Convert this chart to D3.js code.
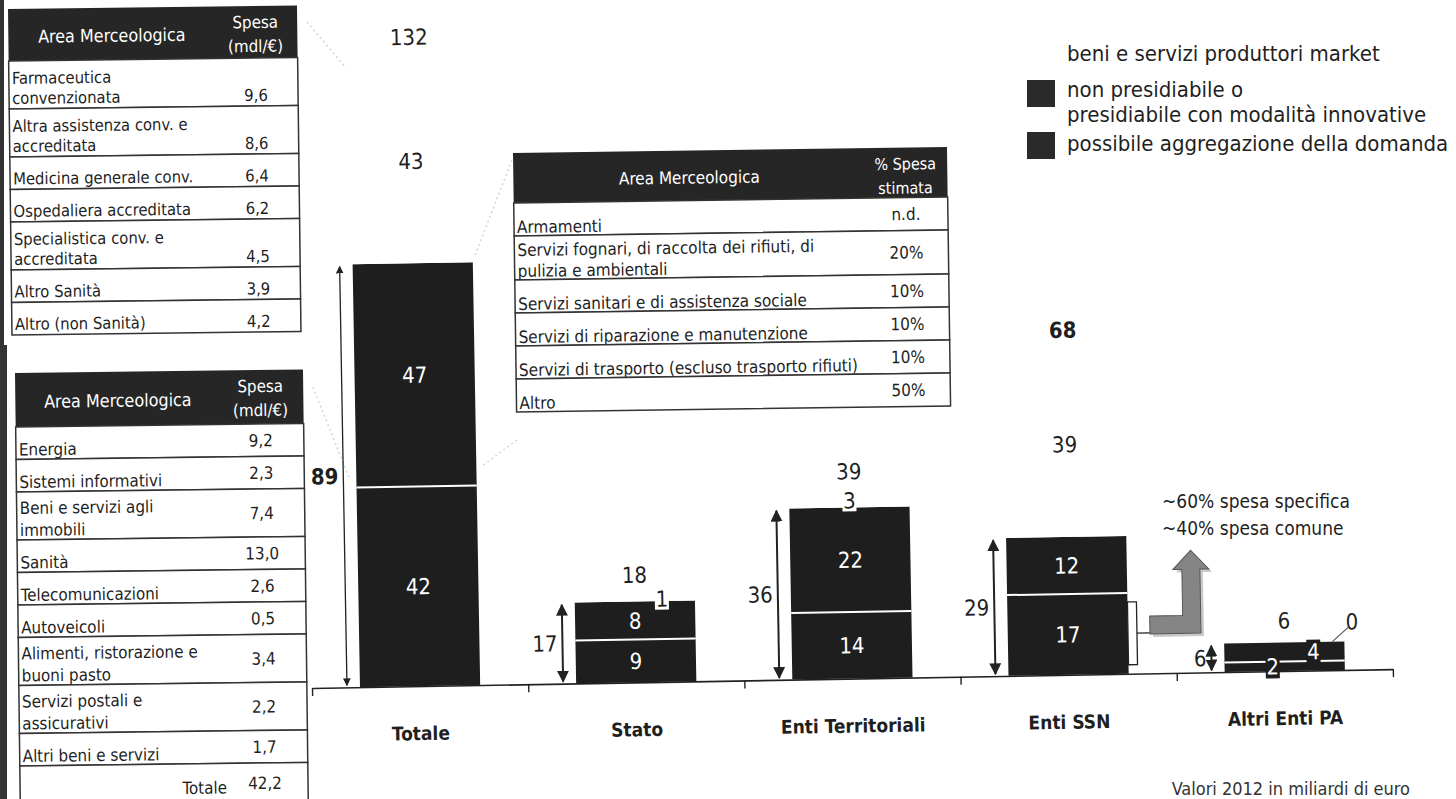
<!DOCTYPE html>
<html>
<head>
<meta charset="utf-8">
<script src="https://cdn.jsdelivr.net/npm/d3@7"></script>
<style>
  body { margin: 0; background: #fff; }
  svg { display: block; font-family: "DejaVu Sans Condensed", "DejaVu Sans", sans-serif; font-stretch: condensed; }
</style>
</head>
<body>
<svg id="chart" width="1456" height="799"></svg>
<script>
// ---- data ----
const categories = ["Totale", "Stato", "Enti Territoriali", "Enti SSN", "Altri Enti PA"];
const aggregazione = [42, 9, 14, 17, 2];      // possibile aggregazione della domanda
const nonPresidiabile = [47, 8, 22, 12, 4];   // non presidiabile o presidiabile con modalità innovative
const produttoriMarket = [43, 1, 3, 39, 0];   // beni e servizi produttori market
const presidiabili = [89, 17, 36, 29, 6];
const totali = [132, 18, 39, 68, 6];

const legendLabels = ["beni e servizi produttori market",
  "non presidiabile o\npresidiabile con modalità innovative",
  "possibile aggregazione della domanda"];
const ssnNote = ["~60% spesa specifica", "~40% spesa comune"];

const sanitaAree = ["Farmaceutica\nconvenzionata", "Altra assistenza conv. e\naccreditata", "Medicina generale conv.",
  "Ospedaliera accreditata", "Specialistica conv. e\naccreditata", "Altro Sanità", "Altro (non Sanità)"];
const sanitaSpesa = [9.6, 8.6, 6.4, 6.2, 4.5, 3.9, 4.2];

const beniAree = ["Energia", "Sistemi informativi", "Beni e servizi agli\nimmobili", "Sanità", "Telecomunicazioni",
  "Autoveicoli", "Alimenti, ristorazione e\nbuoni pasto", "Servizi postali e\nassicurativi", "Altri beni e servizi"];
const beniSpesa = [9.2, 2.3, 7.4, 13.0, 2.6, 0.5, 3.4, 2.2, 1.7];
const beniTotale = 42.2;

const altroAree = ["Armamenti", "Servizi fognari, di raccolta dei rifiuti, di\npulizia e ambientali",
  "Servizi sanitari e di assistenza sociale", "Servizi di riparazione e manutenzione",
  "Servizi di trasporto (escluso trasporto rifiuti)", "Altro"];
const altroQuota = ["n.d.", "20%", "10%", "10%", "10%", "50%"];

const caption = "Valori 2012 in miliardi di euro";

// ---- setup ----
const svg = d3.select("#chart");
const ink = "#1f1f1f";
const fmt = v => d3.format(".1f")(v).replace(".", ",");

svg.append("rect").attr("x", 0).attr("y", 0).attr("width", 4).attr("height", 799).attr("fill", "#333");
svg.append("rect").attr("x", 0).attr("y", 345).attr("width", 7).attr("height", 454).attr("fill", "#333");

// faint callout strokes of the scan
const faint = [[307, 22, 346, 68], [512, 160, 474, 258], [313, 387, 350, 480], [517, 440, 481, 467]];
svg.selectAll("line.faint").data(faint).enter().append("line")
  .attr("class", "faint")
  .attr("x1", d => d[0]).attr("y1", d => d[1]).attr("x2", d => d[2]).attr("y2", d => d[3])
  .attr("stroke", "#d4d4d4").attr("stroke-width", 1.5).attr("stroke-dasharray", "2,3");

// ---- tables ----
function drawTable(t) {
  const g = svg.append("g").attr("transform", `rotate(${t.rot}, ${t.x}, ${t.y})`);
  g.append("rect").attr("x", t.x).attr("y", t.y).attr("width", t.w).attr("height", t.headH).attr("fill", "#262626");
  const textMid = t.x + (t.valueX - 40 - t.x) / 2;
  g.append("text").attr("x", textMid).attr("y", t.y + t.headH / 2 + 8).attr("text-anchor", "middle")
    .attr("fill", "#fff").attr("font-size", t.headFont).text("Area Merceologica");
  t.valueHead.forEach((s, k) => {
    g.append("text").attr("x", t.valueX).attr("y", t.y + 22 + k * 24).attr("text-anchor", "middle")
      .attr("fill", "#fff").attr("font-size", t.headFont - 1).text(s);
  });
  let yy = t.y + t.headH;
  t.names.forEach((name, i) => {
    const lines = name.split("\n");
    const h = lines.length > 1 ? t.row2 : t.row1;
    g.append("rect").attr("x", t.x).attr("y", yy).attr("width", t.w).attr("height", h)
      .attr("fill", "#fff").attr("stroke", "#333").attr("stroke-width", 1.5);
    lines.forEach((ln, k) => {
      g.append("text").attr("x", t.x + 3)
        .attr("y", yy + h - t.nameBottom - (lines.length - 1 - k) * t.lineH)
        .attr("fill", ink).attr("font-size", t.font).text(ln);
    });
    const vy = t.valueLast ? yy + h - t.nameBottom : yy + h / 2 + 6;
    g.append("text").attr("x", t.valueX).attr("y", vy).attr("text-anchor", "middle")
      .attr("fill", ink).attr("font-size", t.font).text(t.values[i]);
    yy += h;
  });
  return { g, bottom: yy };
}

drawTable({ x: 8, y: 9, w: 289, headH: 52, rot: -0.7, valueX: 255, headFont: 17.8,
  valueHead: ["Spesa", "(mdl/€)"], names: sanitaAree, values: sanitaSpesa.map(fmt),
  row1: 32.5, row2: 48, lineH: 20, nameBottom: 5, font: 16.5, valueLast: true });

const t2 = drawTable({ x: 15, y: 373, w: 288, headH: 54, rot: -0.7, valueX: 260, headFont: 17.8,
  valueHead: ["Spesa", "(mdl/€)"], names: beniAree, values: beniSpesa.map(fmt),
  row1: 32.5, row2: 48, lineH: 22, nameBottom: 4, font: 16.9, valueLast: false });
t2.g.append("rect").attr("x", 15).attr("y", t2.bottom).attr("width", 288).attr("height", 40)
  .attr("fill", "#fff").attr("stroke", "#333").attr("stroke-width", 1.5);
t2.g.append("text").attr("x", 222).attr("y", t2.bottom + 30).attr("text-anchor", "end")
  .attr("fill", ink).attr("font-size", 16.9).text("Totale");
t2.g.append("text").attr("x", 260).attr("y", t2.bottom + 26).attr("text-anchor", "middle")
  .attr("fill", ink).attr("font-size", 16.9).text(fmt(beniTotale));

drawTable({ x: 513, y: 153, w: 434, headH: 50, rot: -0.8, valueX: 905, headFont: 17,
  valueHead: ["% Spesa", "stimata"], names: altroAree, values: altroQuota,
  row1: 33, row2: 44, lineH: 21, nameBottom: 3, font: 17, valueLast: false });

// ---- legend ----
const lg = svg.append("g").attr("font-size", 22).attr("fill", ink);
lg.append("text").attr("x", 1067).attr("y", 61).text(legendLabels[0]);
legendLabels[1].split("\n").forEach((ln, k) =>
  lg.append("text").attr("x", 1067).attr("y", 97 + k * 25).text(ln));
lg.append("rect").attr("x", 1027).attr("y", 80).attr("width", 28).attr("height", 27).attr("fill", "#2a2a2a");
lg.append("text").attr("x", 1067).attr("y", 151).text(legendLabels[2]);
lg.append("rect").attr("x", 1027).attr("y", 132).attr("width", 28).attr("height", 27).attr("fill", "#2a2a2a");

// ---- bar chart ----
const axisLeft = 312, axisRight = 1393, baseY = 688;
const chart = svg.append("g").attr("transform", `rotate(-1, ${axisLeft}, ${baseY})`);

const x = d3.scaleBand().domain(categories).range([axisLeft, axisRight])
  .paddingInner(0.444).paddingOuter(0.222);
const y = d3.scaleLinear().domain([0, 89]).range([baseY, 265]);
const bw = x.bandwidth();

const tickScale = d3.scaleLinear().domain([0, categories.length]).range([axisLeft, axisRight]);
const axis = chart.append("g").attr("transform", `translate(0,${baseY})`)
  .call(d3.axisBottom(tickScale).tickValues(d3.range(categories.length + 1)).tickFormat("").tickSize(8).tickSizeOuter(0));
axis.select(".domain").attr("stroke", "#222").attr("stroke-width", 1.6);
axis.selectAll(".tick line").attr("stroke", "#222").attr("stroke-width", 1.4);

chart.selectAll("text.cat").data(categories).enter().append("text")
  .attr("class", "cat")
  .attr("x", d => x(d) + bw / 2).attr("y", baseY + 54)
  .attr("text-anchor", "middle").attr("font-size", 19).attr("font-weight", "bold").attr("fill", ink)
  .text(d => d);

const rows = categories.map((c, i) => ({ cat: c, agg: aggregazione[i], non: nonPresidiabile[i], mkt: produttoriMarket[i] }));
const series = d3.stack().keys(["agg", "non", "mkt"])(rows);

const segFill = { agg: "#1e1e1e", non: "#1e1e1e", mkt: "#ffffff" };
series.forEach(s => {
  chart.selectAll(null).data(s).enter().append("rect")
    .attr("x", d => x(d.data.cat)).attr("width", bw)
    .attr("y", d => y(d[1])).attr("height", d => y(d[0]) - y(d[1]))
    .attr("fill", segFill[s.key]);
});

// white separator between dark segments
chart.selectAll(null).data(series[0]).enter().append("line")
  .attr("x1", d => x(d.data.cat)).attr("x2", d => x(d.data.cat) + bw)
  .attr("y1", d => y(d[1])).attr("y2", d => y(d[1]))
  .attr("stroke", "#fff").attr("stroke-width", 2);

// labels inside dark segments
const thinShift = { agg: -12, non: 29 };
[series[0], series[1]].forEach(s => {
  s.forEach(d => {
    const h = y(d[0]) - y(d[1]);
    const cy = (y(d[0]) + y(d[1])) / 2;
    let cx = x(d.data.cat) + bw / 2;
    if (h < 24) {
      cx += thinShift[s.key];
      chart.append("rect").attr("x", cx - 7).attr("y", cy - 12).attr("width", 14).attr("height", 24).attr("fill", "#1e1e1e");
    }
    chart.append("text").attr("x", cx).attr("y", cy + 8).attr("text-anchor", "middle")
      .attr("fill", "#fff").attr("font-size", 22).text(d[1] - d[0]);
  });
});

// labels of the (white) produttori market segment
const mktShift = { "Stato": 27 };
series[2].forEach(d => {
  const v = d[1] - d[0];
  const h = y(d[0]) - y(d[1]);
  const cy = (y(d[0]) + y(d[1])) / 2;
  const bx = x(d.data.cat);
  if (v === 0) {
    const right = bx + bw, top = y(d[1]);
    chart.append("line").attr("x1", right - 12).attr("y1", top).attr("x2", right + 4).attr("y2", top - 14)
      .attr("stroke", "#555").attr("stroke-width", 1.2);
    chart.append("text").attr("x", right + 8).attr("y", top - 12).attr("text-anchor", "middle")
      .attr("fill", ink).attr("font-size", 22).text(v);
    return;
  }
  const cx = bx + bw / 2 + (mktShift[d.data.cat] || 0);
  if (h < 40) {
    chart.append("rect").attr("x", cx - 7).attr("y", cy - 13).attr("width", 14).attr("height", 24).attr("fill", "#fff");
  }
  chart.append("text").attr("x", cx).attr("y", cy + 8).attr("text-anchor", "middle")
    .attr("fill", ink).attr("font-size", 22).text(v);
});

// totals above the bars
chart.selectAll("text.tot").data(categories).enter().append("text")
  .attr("class", "tot")
  .attr("x", d => x(d) + bw / 2).attr("y", (d, i) => y(totali[i]) - 14)
  .attr("text-anchor", "middle").attr("fill", ink).attr("font-size", 22)
  .attr("font-weight", (d, i) => i === 3 ? "bold" : "normal")
  .text((d, i) => totali[i]);

// double arrows for the presidiabile part
const defs = svg.append("defs");
defs.append("marker").attr("id", "head").attr("viewBox", "0 0 10 10").attr("refX", 9).attr("refY", 5)
  .attr("markerWidth", 6).attr("markerHeight", 6).attr("orient", "auto-start-reverse")
  .append("path").attr("d", "M0,0L10,5L0,10z").attr("fill", "#222");

categories.forEach((c, i) => {
  const ax = x(c) - 13;
  chart.append("line").attr("x1", ax).attr("x2", ax)
    .attr("y1", y(presidiabili[i]) + 2).attr("y2", baseY - 2)
    .attr("stroke", "#222").attr("stroke-width", i === 0 ? 1.3 : 2)
    .attr("marker-start", "url(#head)").attr("marker-end", "url(#head)");
  chart.append("text").attr("x", ax - 5).attr("y", (y(presidiabili[i]) + baseY) / 2 + 8)
    .attr("text-anchor", "end").attr("fill", ink).attr("font-size", 22)
    .attr("font-weight", i === 0 ? "bold" : "normal").text(presidiabili[i]);
});

// SSN bracket and turn arrow
const ssn = categories[3];
const brX = x(ssn) + bw, brTop = y(aggregazione[3]) + 9, brBot = baseY - 9;
chart.append("rect").attr("x", brX).attr("y", brTop).attr("width", 9).attr("height", brBot - brTop)
  .attr("fill", "#fff").attr("stroke", "#222").attr("stroke-width", 1.3);
const bx = brX + 9, by = (brTop + brBot) / 2;
chart.append("line").attr("x1", bx).attr("x2", bx + 13).attr("y1", by).attr("y2", by)
  .attr("stroke", "#222").attr("stroke-width", 1.3);
const turn = [[13, -17], [46, -17], [46, -63], [37, -63], [55, -82], [73, -63], [64, -63], [64, 1], [13, 1]];
chart.append("polygon").attr("points", turn.map(p => [bx + p[0] + 3, by + p[1] + 3].join(",")).join(" "))
  .attr("fill", "#c9c9c9");
chart.append("polygon").attr("points", turn.map(p => [bx + p[0], by + p[1]].join(",")).join(" "))
  .attr("fill", "#858585").attr("stroke", "#555").attr("stroke-width", 1);

svg.selectAll("text.note").data(ssnNote).enter().append("text")
  .attr("class", "note")
  .attr("x", 1162).attr("y", (d, i) => 508 + i * 27)
  .attr("fill", ink).attr("font-size", 19).text(d => d);

// caption at the page bottom
svg.append("text").attr("x", 1410).attr("y", 795).attr("text-anchor", "end")
  .attr("fill", "#333").attr("font-size", 18).text(caption);
</script>
</body>
</html>
